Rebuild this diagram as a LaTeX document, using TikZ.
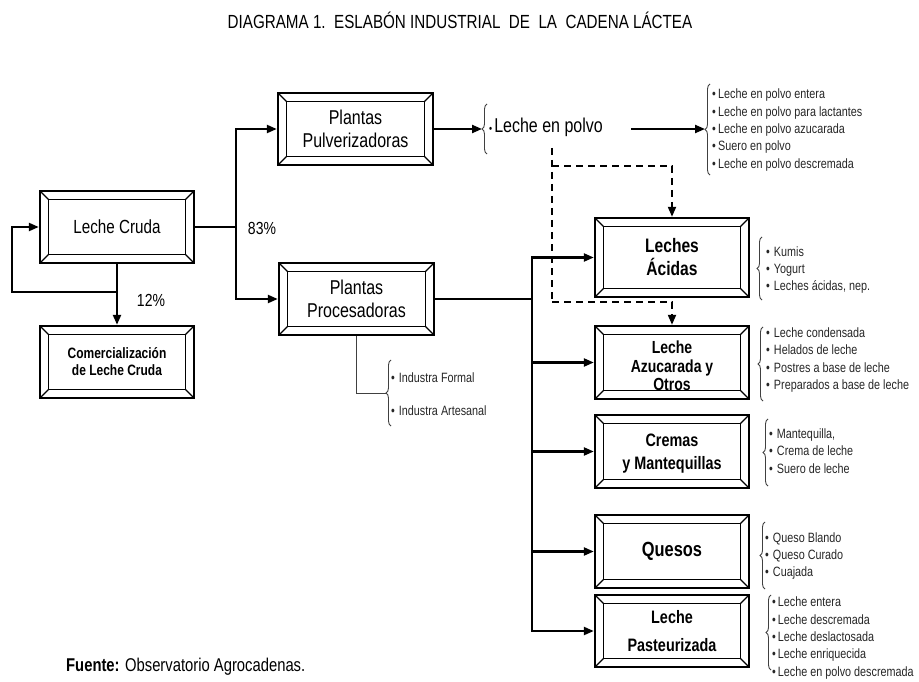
\documentclass[tikz,border=0pt]{standalone}
\usepackage{fontspec}
\setmainfont{Liberation Sans}[FakeStretch=0.8]
\usetikzlibrary{arrows.meta,decorations.pathreplacing,calc}
\begin{document}
\begin{tikzpicture}[x=1pt,y=-1pt,
  bevel/.style={draw, line width=2.4pt, fill=white, minimum width=154pt, minimum height=72pt,
    inner sep=0pt, align=center,
    path picture={
      \draw[line width=1.8pt] ([shift={(8.5pt,-8.5pt)}]path picture bounding box.north west)
        rectangle ([shift={(-8.5pt,8.5pt)}]path picture bounding box.south east);
      \draw[line width=1.3pt]
        (path picture bounding box.north west) -- ([shift={(8.5pt,-8.5pt)}]path picture bounding box.north west)
        (path picture bounding box.north east) -- ([shift={(-8.5pt,-8.5pt)}]path picture bounding box.north east)
        (path picture bounding box.south west) -- ([shift={(8.5pt,8.5pt)}]path picture bounding box.south west)
        (path picture bounding box.south east) -- ([shift={(-8.5pt,8.5pt)}]path picture bounding box.south east);
    }},
  ln/.style={line width=2.2pt},
  arr/.style={line width=2.2pt, -{Triangle[length=10pt,width=8pt]}},
  dsh/.style={line width=2pt, dash pattern=on 7pt off 5pt},
  thinln/.style={line width=0.9pt, draw=black!75},
  br/.style={decorate, decoration={brace, amplitude=5pt}, line width=0.9pt, draw=black!75},
  lst/.style={anchor=west, align=left, inner sep=0pt, text=black!85, font=\fontsize{13.5}{17.3}\selectfont},
  lbl/.style={font=\fontsize{17.5}{20}\selectfont, inner sep=0pt}
]
\useasboundingbox (0,0) rectangle (919,682);

% title
\node[font=\fontsize{19}{22}\selectfont, inner sep=0pt] (title) at (460,20)
  {DIAGRAMA 1.\ \ ESLABÓN INDUSTRIAL\ \ DE\ \ LA\ \ CADENA LÁCTEA};

% boxes
\node[bevel, font=\fontsize{19}{23}\selectfont] (lc) at (117,227) {Leche Cruda};
\node[bevel, font=\bfseries\fontsize{15}{17}\selectfont] (com) at (117,362) {Comercialización\\de Leche Cruda};
\node[bevel, minimum width=155pt, font=\fontsize{20}{23}\selectfont] (pul) at (355.5,129) {Plantas\\Pulverizadoras};
\node[bevel, minimum width=155pt, font=\fontsize{20}{23}\selectfont] (pro) at (356.5,299) {Plantas\\Procesadoras};
\node[bevel, minimum height=79pt, font=\bfseries\fontsize{19.5}{23}\selectfont] (aci) at (672,257.5) {Leches\\Ácidas};
\node[bevel, minimum height=73pt] (azu) at (672,362.5) {};
\node[align=center, inner sep=0pt, font=\bfseries\fontsize{17.5}{18.5}\selectfont] (azut) at (672,366)
  {Leche\\Azucarada y\\Otros};
\node[bevel, minimum height=73pt] (cre) at (672,451.5) {};
\node[align=center, inner sep=0pt, font=\bfseries\fontsize{18}{23}\selectfont] (cret) at (672,454)
  {Cremas\\y Mantequillas};
\node[bevel, minimum height=73pt, font=\bfseries\fontsize{20.5}{23}\selectfont] (que) at (672,551.5) {Quesos};
\node[bevel, minimum height=72pt, font=\bfseries\fontsize{18}{25}\selectfont] (pas) at (672,631) {Leche\\[3pt]Pasteurizada};

% left part
\coordinate (j1) at (117,292);
\coordinate (lp) at (12,292);
\draw[arr] (lc.south) -- (com.north);
\draw[arr] (j1) -- (lp) |- (lc.west);
\coordinate (sp) at (236,227);
\draw[ln] (lc.east) -- (sp);
\draw[arr] (sp) |- (pul.west);
\draw[arr] (sp) |- (pro.west);
\node[lbl] (p83) at (262,228) {83\%};
\node[lbl] (p12) at (151,300) {12\%};

% leche en polvo
\coordinate (b0) at (482,129);
\draw[arr] (pul.east) -- (b0);
\draw[br] (487,154) -- (487,104);
\node[anchor=west, inner sep=0pt, font=\fontsize{20}{24}\selectfont] (lep) at (489,127)
  {{\fontsize{11}{11}\selectfont •}\hspace{2pt}Leche en polvo};
\coordinate (a1) at (631,129);
\coordinate (b1) at (705,129);
\draw[arr] (a1) -- (b1);
\draw[br] (710,175) -- (710,84);
\node[lst] (l1) at (712,130) {•\,Leche en polvo entera\\•\,Leche en polvo para lactantes\\•\,Leche en polvo azucarada\\•\,Suero en polvo\\•\,Leche en polvo descremada};

% dashed
\coordinate (d0) at (552,148);
\coordinate (d1) at (552,166);
\coordinate (d2) at (552,302);
\draw[dsh] (d0) -- (d2);
\draw[dsh, -{Triangle[length=10pt,width=8pt]}] (d1) -| (aci.north);
\draw[dsh, -{Triangle[length=10pt,width=8pt]}] (d2) -| (azu.north);

% trunk
\coordinate (tj) at (532,299);
\draw[ln] (pro.east) -- (tj);
\draw[arr] (tj) |- (aci.west);
\draw[arr] (tj) |- (azu.west);
\draw[arr] (tj) |- (cre.west);
\draw[arr] (tj) |- (que.west);
\draw[arr] (tj) |- (pas.west);

% industria
\coordinate (b2) at (386,393);
\draw[thinln] (pro.south) |- (b2);
\draw[br] (391,426) -- (391,360);
\node[lst] (i1) at (391,378) {•\hspace{4pt}Industra Formal};
\node[lst] (i2) at (391,411) {•\hspace{4pt}Industra Artesanal};

% right lists
\draw[br] (762,300) -- (762,237);
\node[lst] (l2) at (766,270) {•\hspace{4pt}Kumis\\•\hspace{4pt}Yogurt\\•\hspace{4pt}Leches ácidas, nep.};
\draw[br] (763,401) -- (763,327);
\node[lst] (l3) at (766,360) {•\hspace{4pt}Leche condensada\\•\hspace{4pt}Helados de leche\\•\hspace{4pt}Postres a base de leche\\•\hspace{4pt}Preparados a base de leche};
\draw[br] (768,486) -- (768,419);
\node[lst] (l4) at (769,451) {•\hspace{4pt}Mantequilla,\\•\hspace{4pt}Crema de leche\\•\hspace{4pt}Suero de leche};
\draw[br] (765,589) -- (765,522);
\node[lst] (l5) at (765,556) {•\hspace{4pt}Queso Blando\\•\hspace{4pt}Queso Curado\\•\hspace{4pt}Cuajada};
\draw[br] (771,670) -- (771,595);
\node[lst] (l6) at (772,638) {•\hspace{2pt}Leche entera\\•\hspace{2pt}Leche descremada\\•\hspace{2pt}Leche deslactosada\\•\hspace{2pt}Leche enriquecida\\•\hspace{2pt}Leche en polvo descremada};

% source
\node[anchor=west, inner sep=0pt, font=\fontsize{18.5}{20}\selectfont] (src) at (66,667)
  {\textbf{Fuente:} Observatorio Agrocadenas.};
\end{tikzpicture}
\end{document}
